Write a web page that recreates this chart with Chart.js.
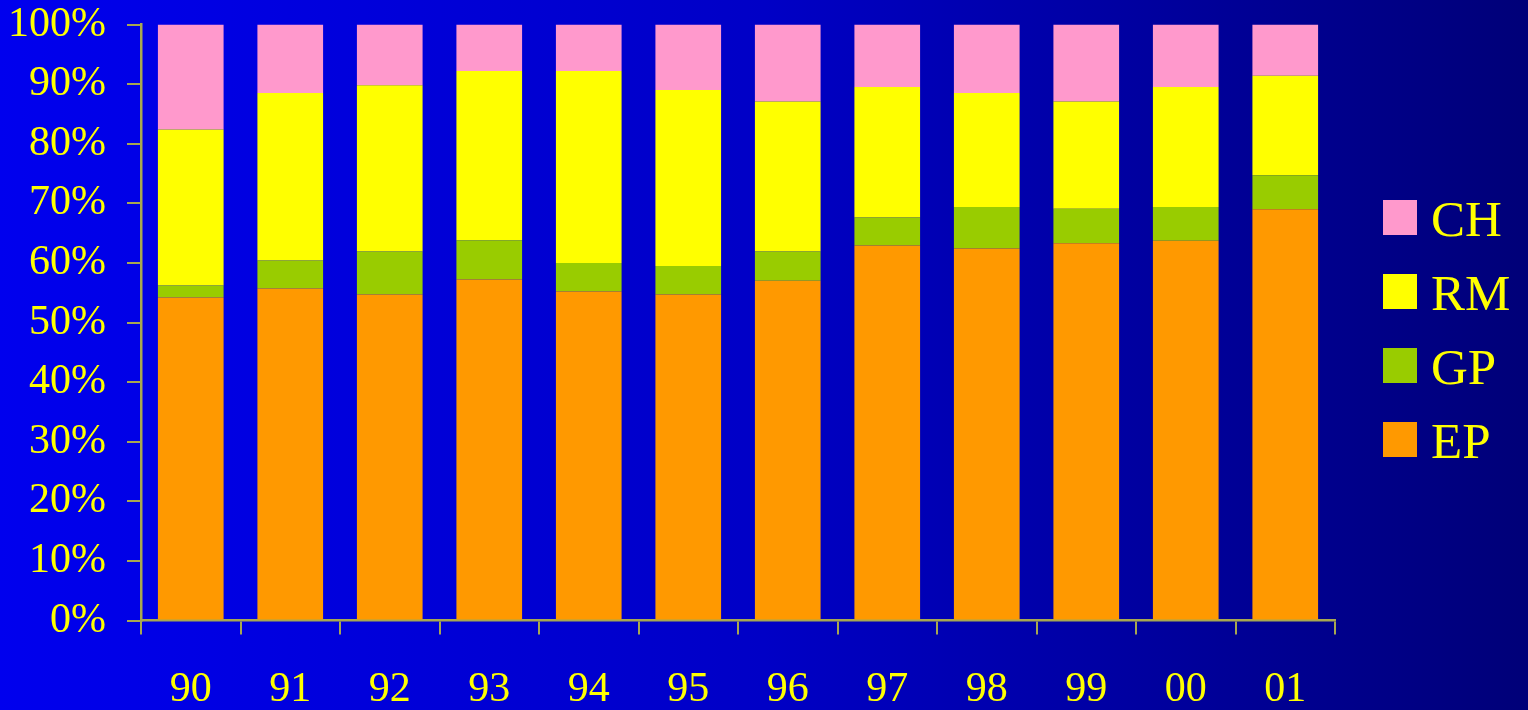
<!DOCTYPE html>
<html>
<head>
<meta charset="utf-8">
<title>EP / GP / RM / CH</title>
<script src="https://cdn.jsdelivr.net/npm/chart.js@4/dist/chart.umd.min.js"></script>
<style>
  html, body { margin: 0; padding: 0; width: 1528px; height: 710px; overflow: hidden; }
  body { background: linear-gradient(to right, #0000EE 0%, #0000C6 50%, #000078 100%); }
  canvas { display: block; }
</style>
</head>
<body>
<canvas id="chart" width="1528" height="710"></canvas>
<script>
// Years (two-digit labels) along the bottom axis
const years = ['90', '91', '92', '93', '94', '95', '96', '97', '98', '99', '00', '01'];

// Share of each group per year, in percent (stacked bottom to top: EP, GP, RM, CH)
const epShare = [54.2, 55.7, 54.7, 57.2, 55.2, 54.7, 57.0, 62.9, 62.4, 63.3, 63.7, 69.0];
const gpShare = [2.0, 4.7, 7.2, 6.6, 4.8, 4.8, 4.9, 4.7, 7.0, 5.8, 5.7, 5.7];
const rmShare = [26.2, 28.1, 27.9, 28.4, 32.2, 29.5, 25.2, 21.9, 19.1, 18.0, 20.1, 16.7];
const chShare = [17.6, 11.5, 10.2, 7.8, 7.8, 11.0, 12.9, 10.5, 11.5, 12.9, 10.5, 8.6];

// Percent axis ticks
const percentTicks = [0, 10, 20, 30, 40, 50, 60, 70, 80, 90, 100];

const seriesNames = ['EP', 'GP', 'RM', 'CH'];
const seriesColors = ['#FF9900', '#99CC00', '#FFFF00', '#FF99CC'];
const seriesValues = [epShare, gpShare, rmShare, chShare];

const TEXT = '#FFFF00';
const AXIS = '#A8A850';
const SERIF = '"Liberation Serif", "Times New Roman", serif';

// Key drawn to the right of the plot: CH on top down to EP
const sideKey = {
  id: 'sideKey',
  afterDraw(chart) {
    const { ctx, chartArea } = chart;
    const box = 34, rowGap = 74;
    const x0 = chartArea.right + 48;
    const midY = (chartArea.top + chartArea.bottom) / 2 + 5.5;
    const ds = chart.data.datasets;
    ctx.save();
    ctx.font = '51px ' + SERIF;
    ctx.textBaseline = 'alphabetic';
    ctx.textAlign = 'left';
    for (let i = 0; i < ds.length; i++) {
      const d = ds[ds.length - 1 - i];
      const cy = midY + (i - (ds.length - 1) / 2) * rowGap;
      ctx.fillStyle = d.backgroundColor;
      ctx.fillRect(x0, Math.round(cy - box / 2), box, box + 1);
      ctx.fillStyle = TEXT;
      ctx.fillText(d.label, x0 + 48, cy + 18.5);
    }
    ctx.restore();
  }
};

new Chart(document.getElementById('chart'), {
  type: 'bar',
  data: {
    labels: years,
    datasets: seriesNames.map((name, i) => ({
      label: name,
      data: seriesValues[i],
      backgroundColor: seriesColors[i],
      borderWidth: 0,
      categoryPercentage: 1.0,
      barPercentage: 0.66
    }))
  },
  options: {
    responsive: false,
    animation: false,
    devicePixelRatio: 1,
    layout: { padding: { left: 8, right: 193, top: 24.5, bottom: 0 } },
    plugins: {
      legend: { display: false },
      tooltip: { enabled: false }
    },
    scales: {
      x: {
        stacked: true,
        offset: true,
        afterFit(scale) { scale.height = 89.5; },
        grid: {
          display: true,
          offset: true,
          drawOnChartArea: false,
          drawTicks: true,
          tickLength: 14,
          color: AXIS,
          lineWidth: 2
        },
        border: { display: true, color: AXIS, width: 2.5 },
        ticks: {
          color: TEXT,
          padding: 34,
          maxRotation: 0,
          autoSkip: false,
          font: { family: SERIF, size: 42, lineHeight: 1.0 }
        }
      },
      y: {
        stacked: true,
        min: 0,
        max: 100,
        afterFit(scale) {
          scale.width = 133;
          scale.paddingTop = 0;
          scale.paddingBottom = 0;
        },
        afterBuildTicks(scale) {
          scale.ticks = percentTicks.map(v => ({ value: v }));
        },
        grid: {
          display: true,
          drawOnChartArea: false,
          drawTicks: true,
          tickLength: 14,
          color: AXIS,
          lineWidth: 2
        },
        border: { display: true, color: AXIS, width: 2.5 },
        ticks: {
          color: TEXT,
          padding: 21,
          font: { family: SERIF, size: 42, lineHeight: 1.0 },
          callback: v => v + '%'
        }
      }
    }
  },
  plugins: [sideKey]
});
</script>
</body>
</html>
